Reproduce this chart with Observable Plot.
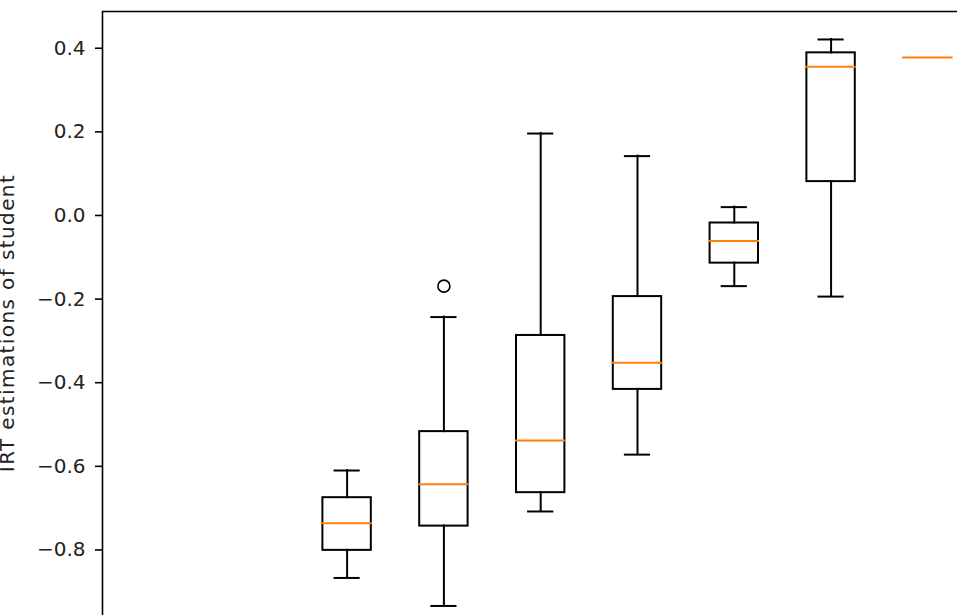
<!DOCTYPE html>
<html>
<head>
<meta charset="utf-8">
<script src="https://cdn.jsdelivr.net/npm/d3@7"></script>
<script src="https://cdn.jsdelivr.net/npm/@observablehq/plot@0.6"></script>
<style>
  html, body { margin: 0; padding: 0; background: #fff; }
  svg { display: block; }
</style>
</head>
<body>
<div id="chart"></div>
<script>
// Box positions (matplotlib-style integer positions)
const positions   = [3, 4, 5, 6, 7, 8, 9];
// Summary statistics of each box
const whiskerLow  = [-0.867, -0.934, -0.708, -0.572, -0.169, -0.194, 0.378];
const q1          = [-0.801, -0.743, -0.663, -0.416, -0.114,  0.081, 0.378];
const median      = [-0.736, -0.643, -0.538, -0.352, -0.061,  0.356, 0.378];
const q3          = [-0.675, -0.517, -0.287, -0.194, -0.018,  0.389, 0.378];
const whiskerHigh = [-0.610, -0.243,  0.196,  0.142,  0.020,  0.421, 0.378];
// Outliers (fliers)
const outlierPositions = [4];
const outlierValues    = [-0.169];
// Axis
const yTicks = [-0.8, -0.6, -0.4, -0.2, 0.0, 0.2, 0.4];
const yLabel = "IRT estimations of student";
// Visible axis limits of the (cropped) view
const xLimits = [0.473, 9.306];
const yLimits = [-0.9568, 0.4879];

const boxes = positions.map((p, i) => ({
  pos: p, lo: whiskerLow[i], q1: q1[i], med: median[i], q3: q3[i], hi: whiskerHigh[i]
}));
const fliers = outlierPositions.map((p, i) => ({pos: p, value: outlierValues[i]}));

const halfBox = 0.25, halfCap = 0.125;
const ink = "#000";
const orange = "#ff7f0e";
const spread = d => d.hi > d.lo;   // degenerate (single-value) boxes collapse to their median line

const chart = Plot.plot({
  width: 957,
  height: 615,
  marginLeft: 102,
  marginRight: 0,
  marginTop: 11,
  marginBottom: 0,
  style: {fontFamily: "DejaVu Sans", fontSize: "20px", background: "#fff", color: "#222"},
  x: {type: "linear", domain: xLimits, axis: null},
  y: {type: "linear", domain: yLimits, axis: null},
  marks: [
    // axes spines (left and top; others fall outside the crop)
    Plot.ruleX([xLimits[0]], {stroke: ink, strokeWidth: 1.6}),
    Plot.ruleY([yLimits[1]], {stroke: ink, strokeWidth: 1.6}),
    Plot.axisY(yTicks, {
      anchor: "left",
      tickSize: 7,
      tickPadding: 10,
      tickFormat: d3.format(".1f"),
      strokeWidth: 1.6,
      stroke: ink,
      fill: "#222",
      fontSize: 20,
      label: null
    }),
    Plot.text([yLabel], {
      text: d => d,
      frameAnchor: "left",
      rotate: -90,
      dx: -88.5,
      dy: 9.5,
      lineAnchor: "bottom",
      textAnchor: "middle",
      fontSize: 20,
      fill: "#222",
      className: "ylab"
    }),
    // whiskers
    Plot.ruleX(boxes, {filter: spread, x: "pos", y1: "q3", y2: "hi", stroke: ink, strokeWidth: 2, strokeLinecap: "square"}),
    Plot.ruleX(boxes, {filter: spread, x: "pos", y1: "lo", y2: "q1", stroke: ink, strokeWidth: 2, strokeLinecap: "square"}),
    // caps
    Plot.ruleY(boxes, {filter: spread, y: "hi", x1: d => d.pos - halfCap, x2: d => d.pos + halfCap, stroke: ink, strokeWidth: 2, strokeLinecap: "square"}),
    Plot.ruleY(boxes, {filter: spread, y: "lo", x1: d => d.pos - halfCap, x2: d => d.pos + halfCap, stroke: ink, strokeWidth: 2, strokeLinecap: "square"}),
    // boxes
    Plot.rect(boxes, {
      filter: spread,
      x1: d => d.pos - halfBox, x2: d => d.pos + halfBox,
      y1: "q1", y2: "q3",
      fill: "none", stroke: ink, strokeWidth: 2
    }),
    // medians
    Plot.ruleY(boxes, {y: "med", x1: d => d.pos - halfBox, x2: d => d.pos + halfBox, stroke: orange, strokeWidth: 2, strokeLinecap: "square"}),
    // outliers
    Plot.dot(fliers, {x: "pos", y: "value", r: 6, fill: "none", stroke: ink, strokeWidth: 1.6})
  ]
});

d3.select(chart).selectAll(".ylab text").attr("letter-spacing", "1.4px");
document.getElementById("chart").appendChild(chart);
</script>
</body>
</html>
